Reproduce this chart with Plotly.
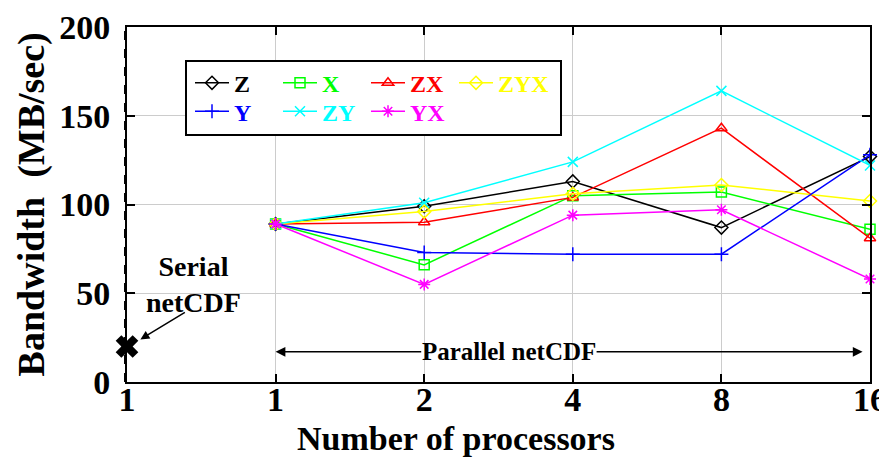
import plotly.graph_objects as go

# ---- data ----
procs = ["1", "2", "4", "8", "16"]
serial_label = "serial"
serial_value = 20
series_names = ["Z", "X", "ZX", "ZYX", "Y", "ZY", "YX"]
Z = [89, 99, 113, 87, 127]
X = [89, 66, 105, 107, 86]
ZX = [89, 90, 104, 143, 81]
ZYX = [89, 96, 106, 111, 102]
Y = [89, 73, 72, 72, 128]
ZY = [89, 101, 124, 164, 122]
YX = [89, 55, 94, 97, 58]
tick_cats = [serial_label] + procs
tick_text = ["1"] + procs

series = [Z, X, ZX, ZYX, Y, ZY, YX]
colors = ["black", "#00ff00", "red", "#ffff00", "blue", "cyan", "magenta"]
symbols = ["diamond-open", "square-open", "triangle-up-open", "diamond-open",
           "cross-thin-open", "x-thin-open", "asterisk-open"]
# legend layout: (column, row) of each entry
legend_cells = [(0, 0), (1, 0), (2, 0), (3, 0), (0, 1), (1, 1), (2, 1)]

FONT = "Liberation Serif"
fig = go.Figure()

legend_ids = ["legend"] + [f"legend{i}" for i in range(2, len(series_names) + 1)]

for name, vals, col, sym, lg in zip(series_names, series, colors, symbols, legend_ids):
    fig.add_trace(go.Scatter(
        x=procs, y=vals, mode="lines+markers",
        name=f'<span style="color:{col}">{name}</span>',
        legend=lg,
        line=dict(color=col, width=1.5),
        marker=dict(symbol=sym, size=10, color=col, line=dict(color=col, width=1.5)),
        cliponaxis=False,
    ))

fig.add_trace(go.Scatter(
    x=[serial_label], y=[serial_value], mode="markers", showlegend=False,
    marker=dict(symbol="x", size=20, color="black"), cliponaxis=False,
))

ann = []
ann.append(dict(text="<b>Write 64 MB</b>", xref="paper", yref="paper", x=0.52, y=1.05,
                xanchor="center", yanchor="bottom", showarrow=False,
                font=dict(family=FONT, size=40, color="black")))
ann.append(dict(text="<b>Bandwidth  (MB/sec)</b>", xref="paper", yref="paper", x=-0.128, y=0.5,
                textangle=-90, xanchor="center", yanchor="middle", showarrow=False,
                font=dict(family=FONT, size=38, color="black")))
ann.append(dict(text="<b>Number of processors</b>", xref="paper", yref="paper", x=0.443, y=-0.16,
                xanchor="center", yanchor="middle", showarrow=False,
                font=dict(family=FONT, size=34, color="black")))
ann.append(dict(text="<b>Serial<br>netCDF</b>", xref="x", yref="y", x=0.445, y=55,
                xanchor="center", yanchor="middle", showarrow=False,
                font=dict(family=FONT, size=28, color="black")))
ann.append(dict(text="", xref="x", yref="y", x=0.09, y=24, axref="pixel", ayref="pixel",
                ax=46, ay=-28, showarrow=True, arrowhead=2, arrowsize=1.2, arrowwidth=1.5,
                arrowcolor="black"))
ann.append(dict(text="<b>Parallel netCDF</b>", xref="x", yref="y", x=2.57, y=17,
                xanchor="center", yanchor="middle", showarrow=False,
                font=dict(family=FONT, size=25, color="black")))
ann.append(dict(text="", xref="x", yref="y", x=1.0, y=17, axref="x", ayref="y",
                ax=1.99, ay=17, showarrow=True, arrowhead=2, arrowsize=1.3, arrowwidth=1.5,
                arrowcolor="black"))
ann.append(dict(text="", xref="x", yref="y", x=4.95, y=17, axref="x", ayref="y",
                ax=3.15, ay=17, showarrow=True, arrowhead=2, arrowsize=1.3, arrowwidth=1.5,
                arrowcolor="black"))

legend_font = dict(family=FONT, size=24, color="black", weight="bold")
layout_legends = {}
for lg, (c, r) in zip(legend_ids, legend_cells):
    px_left = 190 + 88 * c
    layout_legends[lg] = dict(
        x=(px_left - 127) / 743, y=0.905 - 0.08 * r,
        xanchor="left", yanchor="top", orientation="h",
        bgcolor="rgba(0,0,0,0)", borderwidth=0,
        font=legend_font, itemwidth=34,
    )

fig.update_layout(
    width=879, height=459,
    margin=dict(l=127, r=9, t=27, b=77),
    plot_bgcolor="white", paper_bgcolor="white",
    font=dict(family=FONT, color="black"),
    showlegend=True,
    shapes=[
        dict(type="rect", xref="paper", yref="paper", layer="above",
             x0=(186 - 127) / 743, x1=(561 - 127) / 743,
             y0=(382 - 135) / 355, y1=(382 - 61) / 355,
             fillcolor="white", line=dict(color="black", width=2)),
        dict(type="line", xref="paper", yref="paper", layer="above",
             x0=-0.003, x1=-0.003, y0=0, y1=1,
             line=dict(color="black", width=1.5, dash="dash")),
    ],
    annotations=ann,
    **layout_legends,
)

fig.update_xaxes(
    type="category", categoryorder="array", categoryarray=tick_cats,
    range=[0, 5], tickvals=tick_cats, ticktext=tick_text,
    showgrid=True, gridcolor="#cccccc", gridwidth=1,
    showline=True, linecolor="black", linewidth=2, mirror="ticks",
    ticks="inside", ticklen=8, tickcolor="black", tickwidth=1.5,
    tickfont=dict(family=FONT, size=34, color="black", weight="bold"),
    ticklabelstandoff=-14,
    automargin=False, zeroline=False,
)
fig.update_yaxes(
    range=[0, 200], tickvals=[0, 50, 100, 150, 200],
    showgrid=True, gridcolor="#cccccc", gridwidth=1,
    showline=True, linecolor="black", linewidth=2, mirror="ticks",
    ticks="inside", ticklen=8, tickcolor="black", tickwidth=1.5,
    tickfont=dict(family=FONT, size=34, color="black", weight="bold"),
    ticklabelstandoff=8,
    automargin=False, zeroline=False,
)

fig.write_html("out.html")
